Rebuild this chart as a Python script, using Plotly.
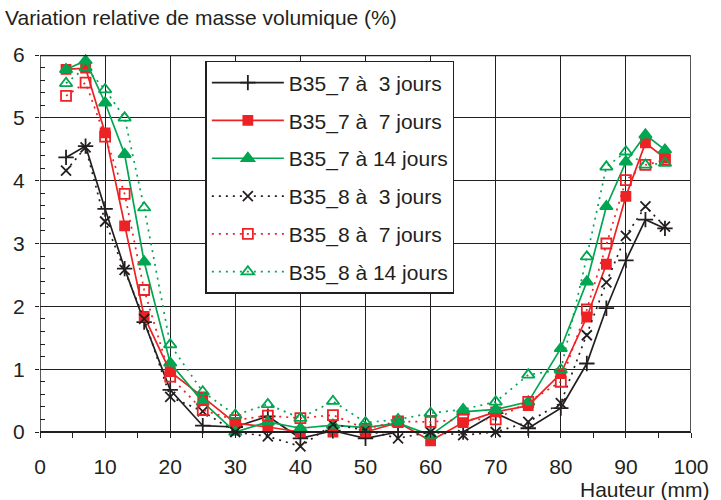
import plotly.graph_objects as go

# Sample heights (mm)
hauteur = [4, 7, 10, 13, 16, 20, 25, 30, 35, 40, 45, 50, 55, 60, 65, 70, 75, 80, 84, 87, 90, 93, 96]

# Relative density variation (%)
b35_7_j3 = [4.37, 4.55, 3.55, 2.60, 1.75, 0.67, 0.10, 0.08, 0.25, -0.10, 0.02, -0.10, 0.00, 0.00,
            0.00, 0.30, 0.06, 0.38, 1.09, 1.97, 2.73, 3.38, 3.24]
b35_7_j7 = [5.77, 5.79, 4.76, 3.28, 1.84, 0.96, 0.56, 0.14, 0.08, 0.00, 0.00, 0.00, 0.15, -0.14,
            0.15, 0.32, 0.42, 0.93, 1.83, 2.67, 3.75, 4.60, 4.36]
b35_7_j14 = [5.77, 5.91, 5.24, 4.42, 2.71, 1.10, 0.48, 0.00, 0.16, 0.06, 0.11, 0.07, 0.14, -0.05,
             0.32, 0.36, 0.48, 1.33, 2.39, 3.59, 4.30, 4.73, 4.49]
b35_8_j3 = [4.16, 4.53, 3.35, 2.58, 1.80, 0.56, 0.33, 0.00, -0.07, -0.23, 0.12, 0.03, -0.10, 0.00,
            -0.05, 0.00, 0.16, 0.46, 1.54, 2.38, 3.12, 3.59, 3.27]
b35_8_j7 = [5.35, 5.56, 4.70, 3.79, 2.26, 0.88, 0.35, 0.19, 0.26, 0.22, 0.27, 0.05, 0.17, 0.16,
            0.20, 0.20, 0.48, 0.80, 1.95, 3.00, 4.01, 4.25, 4.33]
b35_8_j14 = [5.55, 5.80, 5.45, 5.00, 3.57, 1.39, 0.64, 0.27, 0.44, 0.22, 0.49, 0.15, 0.20, 0.30,
             0.36, 0.48, 0.91, 0.99, 2.79, 4.22, 4.46, 4.25, 4.28]

series_names = ["B35_7 à\u00a0\u00a03 jours", "B35_7 à\u00a0\u00a07 jours", "B35_7 à 14 jours",
                "B35_8 à\u00a0\u00a03 jours", "B35_8 à\u00a0\u00a07 jours", "B35_8 à 14 jours"]
x_ticks = [0, 10, 20, 30, 40, 50, 60, 70, 80, 90, 100]
y_ticks = [0, 1, 2, 3, 4, 5, 6]

BLACK = "#231f20"
RED = "#ed2224"
GREEN = "#00a651"
FONT = "Liberation Sans, Arial, sans-serif"
DOTS = "2px,5px"

styles = [
    (b35_7_j3, BLACK, "solid", "cross-thin", 11),
    (b35_7_j7, RED, "solid", "square", 9),
    (b35_7_j14, GREEN, "solid", "triangle-up", 11),
    (b35_8_j3, BLACK, DOTS, "x-thin", 10),
    (b35_8_j7, RED, DOTS, "square-open", 10),
    (b35_8_j14, GREEN, DOTS, "triangle-up-open", 11),
]

fig = go.Figure()
for i, (vals, col, dash, sym, size) in enumerate(styles):
    fig.add_trace(go.Scatter(
        x=hauteur, y=vals, mode="lines+markers", name=series_names[i],
        legendgroup=f"g{i}",
        line=dict(color=col, width=1.7, dash=dash),
        marker=dict(symbol=sym, size=size, color=col, line=dict(color=col, width=1.8)),
        cliponaxis=False,
    ))

Y_MIN = -0.35
minor_y = [round(k * 0.2, 1) for k in range(1, 30) if k % 5 != 0]

fig.update_layout(
    width=721, height=500,
    margin=dict(l=40, r=24, t=55, b=46),
    paper_bgcolor="white", plot_bgcolor="white",
    font=dict(family=FONT, size=21, color=BLACK),
    title=dict(text="Variation relative de masse volumique (%)", x=5 / 721, xref="container",
               xanchor="left", y=1 - 18 / 500, yref="container", yanchor="middle",
               font=dict(family=FONT, size=21, color=BLACK)),
    showlegend=True,
    legend=dict(x=0.254, y=0.985, xanchor="left", yanchor="top", bgcolor="white",
                bordercolor=BLACK, borderwidth=1.5, tracegroupgap=7.5, itemwidth=72,
                font=dict(family=FONT, size=21, color=BLACK)),
    xaxis=dict(range=[0, 100], tickvals=x_ticks, ticks="outside", ticklen=5, tickcolor=BLACK,
               showgrid=True, gridcolor=BLACK, gridwidth=1, zeroline=False,
               showline=True, linecolor=BLACK, linewidth=1.5,
               anchor="free", position=-Y_MIN / (6 - Y_MIN), ticklabelstandoff=11,
               minor=dict(dtick=5, tick0=0, ticks="outside", ticklen=5, tickcolor=BLACK, showgrid=False)),
    yaxis=dict(range=[Y_MIN, 6], tickvals=y_ticks, ticks="outside", ticklen=4, tickcolor=BLACK,
               showgrid=True, gridcolor=BLACK, gridwidth=1, zeroline=False, showline=False,
               ticklabelstandoff=6,
               minor=dict(tickmode="array", tickvals=minor_y, ticks="inside", ticklen=5,
                          tickcolor=BLACK, showgrid=False)),
)

# Blank band under the zero line so grid lines stop at the horizontal axis
fig.add_shape(type="rect", xref="x", yref="y", x0=0, x1=100, y0=Y_MIN, y1=0,
              fillcolor="white", line=dict(width=0), layer="between")
# Frame: left axis, thick top edge, right edge
fig.add_shape(type="line", xref="x", yref="y", x0=0, x1=0, y0=0, y1=6,
              line=dict(color=BLACK, width=1.5), layer="above")
fig.add_shape(type="line", xref="x", yref="y", x0=0, x1=100, y0=6, y1=6,
              line=dict(color=BLACK, width=2.5), layer="above")
fig.add_shape(type="line", xref="x", yref="y", x0=100, x1=100, y0=0, y1=6,
              line=dict(color="#555555", width=2), layer="above")

fig.add_annotation(text="Hauteur (mm)", xref="paper", yref="paper", x=1.032, y=-0.09,
                   xanchor="right", yanchor="middle", showarrow=False,
                   font=dict(family=FONT, size=21, color=BLACK))

fig.write_html("out.html")
